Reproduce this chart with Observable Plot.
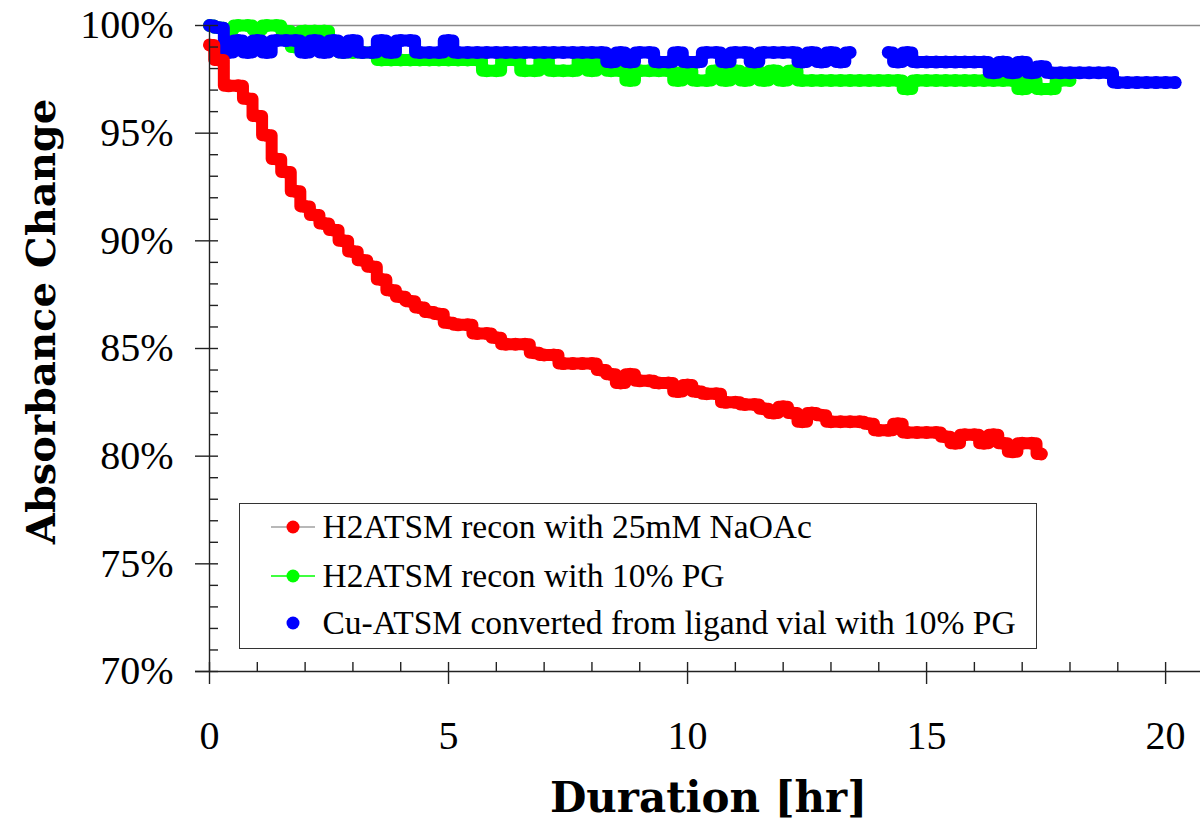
<!DOCTYPE html>
<html><head><meta charset="utf-8">
<script src="https://cdn.jsdelivr.net/npm/d3@7"></script>
<script src="https://cdn.jsdelivr.net/npm/@observablehq/plot@0.6"></script>
<style>
html,body{margin:0;padding:0;background:#fff;}
#wrap{position:relative;width:1200px;height:822px;overflow:hidden;}
#legend{position:absolute;left:239px;top:503px;width:798px;height:146px;box-sizing:border-box;border:1.5px solid #333;background:#fff;font-family:"Liberation Serif",serif;font-size:33.5px;color:#000;}
.row{position:absolute;left:30.5px;height:40px;display:flex;align-items:center;white-space:nowrap;}
.row svg{margin-right:8px;flex:none;}
</style></head><body><div id="wrap"></div>
<script>
// readings every 0.2 hr starting at 0 hr
const timeStep = 0.2;
const seriesNames = [
  "H2ATSM recon with 25mM NaOAc",
  "H2ATSM recon with 10% PG",
  "Cu-ATSM converted from ligand vial with 10% PG"
];
const seriesColors = ["#ff0000", "#00ff00", "#0000ff"];
const legendLineColors = ["#a0a0a0", "#00ff00", null];

const redValues = [
  99.1, 98.4, 97.2, 97.2, 96.6, 95.8, 94.9, 93.8, 93.2, 92.3,
  91.6, 91.2, 90.8, 90.5, 90.0, 89.5, 89.1, 88.8, 88.2, 87.7,
  87.4, 87.2, 86.9, 86.7, 86.6, 86.2, 86.1, 86.1, 85.7, 85.7,
  85.5, 85.2, 85.2, 85.2, 84.8, 84.7, 84.7, 84.3, 84.3, 84.3,
  84.3, 84.0, 83.8, 83.4, 83.8, 83.5, 83.5, 83.4, 83.4, 83.0,
  83.3, 83.0, 82.9, 82.9, 82.5, 82.5, 82.4, 82.4, 82.2, 82.0,
  82.3, 82.0, 81.6, 82.0, 81.9, 81.6, 81.6, 81.6, 81.6, 81.5,
  81.2, 81.2, 81.5, 81.1, 81.1, 81.1, 81.1, 80.9, 80.6, 81.0,
  81.0, 80.6, 81.0, 80.6, 80.2, 80.6, 80.6, 80.1
];
const greenValues = [
  100, 99.9, 99.8, 100, 100, 99.8, 100, 100, 99.75, 99.0,
  99.75, 99.75, 99.75, 99.0, 98.75, 98.75, 98.75, 98.75, 98.4, 98.4,
  98.4, 98.4, 98.4, 98.4, 98.4, 98.4, 98.4, 98.4, 98.4, 97.9,
  97.9, 98.4, 98.4, 97.9, 97.9, 98.4, 97.9, 97.9, 97.9, 98.4,
  97.9, 98.4, 97.9, 97.9, 97.45, 97.9, 97.9, 97.9, 97.9, 97.45,
  97.9, 97.45, 97.45, 97.9, 97.45, 97.9, 97.45, 97.9, 97.45, 97.9,
  97.45, 97.9, 97.45, 97.45, 97.45, 97.45, 97.45, 97.45, 97.45, 97.45,
  97.45, 97.45, 97.45, 97.05, 97.45, 97.45, 97.45, 97.45, 97.45, 97.45,
  97.45, 97.45, 97.45, 97.45, 97.45, 97.05, 97.45, 97.05, 97.05, 97.45,
  97.45
];
const blueValues = [
  100, 99.9, 98.75, 99.3, 98.75, 99.3, 98.75, 99.3, 99.3, 99.3,
  98.75, 99.3, 98.75, 99.3, 98.75, 99.3, 98.75, 98.75, 99.3, 98.75,
  99.3, 99.3, 98.75, 98.75, 98.75, 99.3, 98.75, 98.75, 98.75, 98.75,
  98.75, 98.75, 98.75, 98.75, 98.75, 98.75, 98.75, 98.75, 98.75, 98.75,
  98.75, 98.75, 98.3, 98.75, 98.3, 98.75, 98.75, 98.3, 98.3, 98.75,
  98.3, 98.3, 98.75, 98.75, 98.3, 98.75, 98.75, 98.3, 98.75, 98.75,
  98.75, 98.75, 98.3, 98.75, 98.3, 98.75, 98.3, 98.75, null, null,
  null, 98.75, 98.3, 98.75, 98.3, 98.3, 98.3, 98.3, 98.3, 98.3,
  98.3, 98.3, 97.8, 98.3, 97.8, 98.3, 97.8, 98.1, 97.8, 97.8,
  97.8, 97.8, 97.8, 97.8, 97.8, 97.35, 97.35, 97.35, 97.35, 97.35,
  97.35, 97.35
];
const xTicksMajor = [0, 5, 10, 15, 20];
const xTicksMinor = d3.range(0, 21);
const yTicksMajor = [70, 75, 80, 85, 90, 95, 100];
const yTicksMinor = d3.range(70, 101);

const allValues = [redValues, greenValues, blueValues];
const table = allValues.map((vals, s) =>
  vals.map((v, i) => ({series: seriesNames[s], s, t: +(i * timeStep).toFixed(2), v}))
);
const drawOrder = [1, 2, 0];

const marks = [
  Plot.ruleY([100], {stroke: "#8a8a8a", strokeWidth: 1.6})
];
for (const s of drawOrder) {
  marks.push(Plot.line(table[s], {x: "t", y: "v", stroke: seriesColors[s], strokeWidth: 12, curve: "step"}));
  marks.push(Plot.dot(table[s].filter(d => d.v != null), {x: "t", y: "v", r: 6.5, fill: seriesColors[s], stroke: null}));
}
marks.push(
  Plot.ruleX([0], {stroke: "#222", strokeWidth: 1.4}),
  Plot.ruleY([70], {stroke: "#222", strokeWidth: 1.4, insetLeft: -14}),
  Plot.axisY({ticks: yTicksMajor, tickSize: 14, tickPadding: 22, tickFormat: d => d + "%", fontSize: 40, fontFamily: "Liberation Serif", label: null, stroke: "#222", strokeWidth: 1.4, fill: "#000"}),
  Plot.axisY({ticks: yTicksMinor, tickSize: -9, tickFormat: () => "", label: null, stroke: "#222", strokeWidth: 1.4}),
  Plot.axisX({ticks: xTicksMajor, tickSize: 13, tickPadding: 36, tickFormat: d => String(d), fontSize: 40, fontFamily: "Liberation Serif", label: null, stroke: "#222", strokeWidth: 1.4, fill: "#000"}),
  Plot.axisX({ticks: xTicksMinor, tickSize: -9, tickFormat: () => "", label: null, stroke: "#222", strokeWidth: 1.4}),
  Plot.text(["Duration [hr]"], {frameAnchor: "bottom", textAnchor: "middle", text: d => d, dx: 3.5, dy: 140, fontSize: 42, fontWeight: "bold", fontFamily: "DejaVu Serif", fill: "#000"}),
  Plot.text(["Absorbance Change"], {frameAnchor: "left", textAnchor: "middle", text: d => d, rotate: -90, dx: -167, dy: -27, fontSize: 40, fontWeight: "bold", fontFamily: "DejaVu Serif", fill: "#000"})
);

const chart = Plot.plot({
  width: 1200,
  height: 822,
  marginLeft: 209,
  marginRight: 0,
  marginTop: 25,
  marginBottom: 151,
  x: {domain: [0, 20.73], axis: null},
  y: {domain: [70, 100], axis: null},
  style: {background: "#fff", color: "#000", fontFamily: "Liberation Serif"},
  marks
});
const wrap = document.getElementById("wrap");
wrap.appendChild(chart);

const legend = document.createElement("div");
legend.id = "legend";
const rowTops = [2.5, 51.5, 98.5];
seriesNames.forEach((name, s) => {
  const row = document.createElement("div");
  row.className = "row";
  row.style.top = rowTops[s] + "px";
  const line = legendLineColors[s] ? `<line x1="0" y1="8" x2="44" y2="8" stroke="${legendLineColors[s]}" stroke-width="1.6"/>` : "";
  row.innerHTML = `<svg width="44" height="16">${line}<circle cx="22" cy="8" r="6.5" fill="${seriesColors[s]}"/></svg><span>${name}</span>`;
  legend.appendChild(row);
});
wrap.appendChild(legend);
</script></body></html>
